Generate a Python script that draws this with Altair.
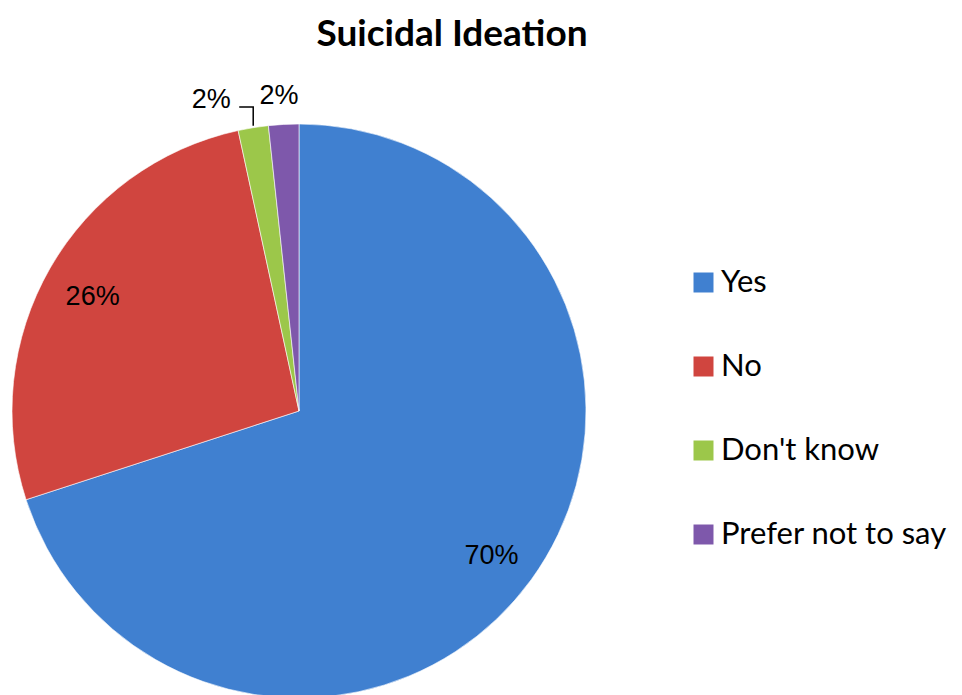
import math
import altair as alt
import pandas as pd

categories = ["Yes", "No", "Don't know", "Prefer not to say"]
values = [70.0, 26.6, 1.7, 1.7]
labels = ["70%", "26%", "2%", "2%"]
colors = ["#4080d0", "#d0453f", "#9cc74a", "#7e58ab"]

df = pd.DataFrame({"category": categories, "value": values, "label": labels,
                   "order": list(range(len(categories)))})

# layout (view coordinates)
CX, CY, R = 291, 343, 287

base = alt.Chart(df).encode(
    theta=alt.Theta("value:Q", stack=True),
    order=alt.Order("order:Q"),
)

color = alt.Color(
    "category:N",
    scale=alt.Scale(domain=categories, range=colors),
    sort=categories,
    legend=alt.Legend(
        title=None, orient="none", legendX=676, legendY=195, padding=4,
        symbolType="square", symbolSize=400, symbolStrokeWidth=0,
        labelFont="Lato", labelFontSize=31, labelColor="#000000",
        labelOffset=2, rowPadding=52, labelLimit=400,
    ),
)

arcs = base.mark_arc(radius=R, stroke="#ffffff", strokeWidth=0.6).encode(
    color=color, x=alt.value(CX), y=alt.value(CY)
)

big = base.mark_text(radius=238, dy=5, font="Liberation Sans", fontSize=27,
                     color="#000000").encode(
    text=alt.condition("datum.value > 10", "label:N", alt.value("")),
    x=alt.value(CX), y=alt.value(CY),
)

# small slice labels placed outside
small_dk = base.mark_text(radius=318, dx=-37, dy=3, font="Liberation Sans", fontSize=27,
                          color="#000000").encode(
    text=alt.condition("datum.category == \"Don't know\"", "label:N", alt.value("")),
    x=alt.value(CX), y=alt.value(CY),
)
small_pn = base.mark_text(radius=318, dx=-3, dy=3, font="Liberation Sans", fontSize=27,
                          color="#000000").encode(
    text=alt.condition("datum.category == 'Prefer not to say'", "label:N", alt.value("")),
    x=alt.value(CX), y=alt.value(CY),
)

# leader line for "Don't know" computed from the data
total = sum(values)
start = sum(values[:2]) / total * 2 * math.pi
mid = start + values[2] / total * math.pi
px = CX + R * math.sin(mid)
py = CY - R * math.cos(mid)
elbow_y = CY - 304
leader = pd.DataFrame({
    "px": [px - 14, px, px],
    "py": [elbow_y, elbow_y, py - 2],
    "i": [0, 1, 2],
})
leader_line = alt.Chart(leader).mark_line(color="#000000", strokeWidth=1.5).encode(
    x=alt.X("px:Q", scale=None), y=alt.Y("py:Q", scale=None), order="i:Q"
)

chart = alt.layer(arcs, big, small_dk, small_pn, leader_line).properties(
    width=946, height=627,
    padding={"left": 0, "top": 60, "right": 0, "bottom": 0},
    autosize=alt.AutoSizeParams(type="none"),
    title=alt.TitleParams("Suicidal Ideation", font="Lato", fontSize=37,
                          fontWeight="bold", color="#000000", anchor="middle",
                          dx=-29, offset=14),
).configure_view(stroke=None)

chart.save("out.html", embed_options={"renderer": "svg", "actions": False})
